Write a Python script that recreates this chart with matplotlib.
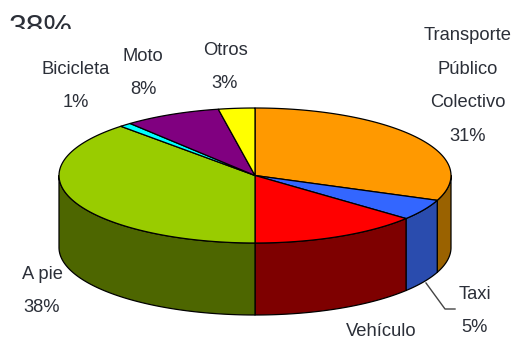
import numpy as np
import matplotlib
matplotlib.use("Agg")
import matplotlib.pyplot as plt
from matplotlib.patches import Rectangle

# shares, clockwise from 12 o'clock
categories = ["Transporte\nPúblico\nColectivo\n31%", "Taxi\n5%", "Vehículo", "A pie\n38%", "Bicicleta\n1%", "Moto\n8%", "Otros\n3%"]
values = [31, 5, 14, 38, 1, 8, 3]
top_colors = ["#FF9900", "#3366FF", "#FF0000", "#99CC00", "#00FFFF", "#800080", "#FFFF00"]
side_colors = ["#9A6200", "#2A4CAE", "#7E0000", "#4D6600", "#008080", "#400040", "#808000"]

label_pos = [(468, 86), (475, 311), (381, 331), (42, 291), (76, 86), (143, 73), (225, 67)]

# pie geometry in image pixels
cx, cy = 255, 175.5
rx, ry = 196, 67.5
depth = 72
text_color = "#2B2F38"

plt.rcParams['font.family'] = ['Liberation Sans', 'DejaVu Sans']

fig = plt.figure(figsize=(5.16, 3.42), dpi=100)
ax = fig.add_axes([0, 0, 1, 1])
ax.set_xlim(0, 516)
ax.set_ylim(342, 0)
ax.axis('off')


def rim(t0, t1, n=80):
    t = np.radians(np.linspace(t0, t1, n))
    return cx + rx * np.sin(t), cy - ry * np.cos(t)


edges = np.cumsum([0] + values) / sum(values) * 360

# walls first: only the front half of the rim shows
for i in range(len(values)):
    a, b = max(edges[i], 90), min(edges[i + 1], 270)
    if a >= b:
        continue
    x, y = rim(a, b)
    ax.fill(np.r_[x, x[::-1]], np.r_[y, y[::-1] + depth],
            facecolor=side_colors[i], edgecolor="black", linewidth=0.9, joinstyle='round', zorder=2)

# top slices
for i in range(len(values)):
    x, y = rim(edges[i], edges[i + 1])
    ax.fill(np.r_[cx, x], np.r_[cy, y], facecolor=top_colors[i], edgecolor="black",
            linewidth=0.9, joinstyle='round', zorder=3)

# labels
for name, (lx, ly) in zip(categories, label_pos):
    ax.text(lx, ly, name, ha='center', va='center', fontsize=13.2, color=text_color,
            linespacing=2.28, zorder=4)

# leader for Taxi
ax.plot([426, 445, 455], [283, 309, 309], color="#444444", linewidth=1.0, zorder=4)

# leftover text cut off at the top of the picture
t = ax.text(41, 29, "38%", ha='center', va='center', fontsize=23, color=text_color, zorder=4)
t.set_clip_path(Rectangle((0, 0), 516, 29, transform=ax.transData))
t.set_clip_on(True)

fig.savefig("out.png", dpi=100)
